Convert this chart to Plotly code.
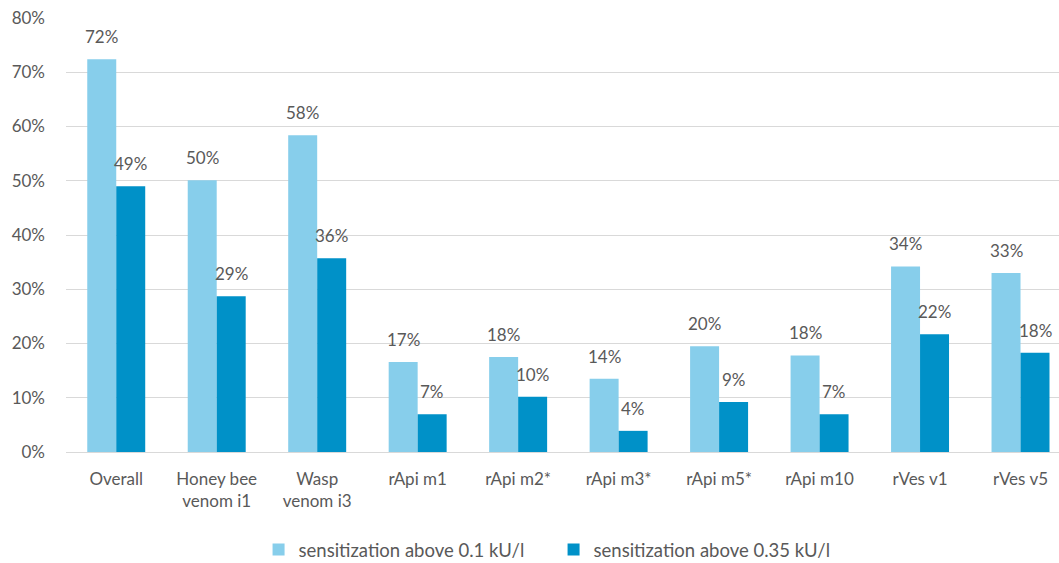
import plotly.graph_objects as go

categories = ["Overall", "Honey bee<br>venom i1", "Wasp<br>venom i3", "rApi m1", "rApi m2*",
              "rApi m3*", "rApi m5*", "rApi m10", "rVes v1", "rVes v5"]
above_01 = [72.4, 50.1, 58.4, 16.6, 17.5, 13.5, 19.5, 17.8, 34.2, 33.0]
above_035 = [49.0, 28.7, 35.7, 6.95, 10.2, 3.9, 9.2, 6.95, 21.7, 18.3]
series_names = ["sensitization above 0.1 kU/l", "sensitization above 0.35 kU/l"]
y_ticks = [0, 10, 20, 30, 40, 50, 60, 70, 80]

light = "#87CEEB"
dark = "#0091C8"
txt = "#595959"
font_family = "Lato, 'Open Sans', sans-serif"
fs = 17

fig = go.Figure()
fig.add_trace(go.Bar(x=categories, y=above_01, name=series_names[0],
                     marker=dict(color=light, line=dict(width=0))))
fig.add_trace(go.Bar(x=categories, y=above_035, name=series_names[1],
                     marker=dict(color=dark, line=dict(width=0))))

annotations = []
for vals, shift in ((above_01, -14.5), (above_035, 14.5)):
    for c, v in zip(categories, vals):
        annotations.append(dict(x=c, y=v, xref="x", yref="y", text=f"{v:.0f}%",
                                showarrow=False, xshift=shift, yshift=10,
                                yanchor="bottom", font=dict(size=fs, color=txt, family=font_family)))

fig.update_layout(
    width=1059, height=563,
    margin=dict(l=66, r=0, t=18, b=111, autoexpand=False),
    paper_bgcolor="white", plot_bgcolor="white",
    barmode="group", bargap=0.423, bargroupgap=0,
    font=dict(family=font_family, size=fs, color=txt),
    showlegend=True,
    legend=dict(orientation="h", x=0.491, xanchor="center", y=-0.226, yanchor="middle",
                font=dict(size=18.5, color=txt), itemwidth=30, traceorder="normal",
                entrywidth=250, entrywidthmode="pixels"),
    annotations=annotations,
)
fig.update_xaxes(type="category", range=[-0.5, 9.383], showgrid=False, showline=False,
                 ticks="", tickfont=dict(size=fs, color=txt), ticklabelstandoff=15,
                 automargin=False)
fig.update_yaxes(range=[0, 80], tickvals=y_ticks, ticktext=[f"{t}%" for t in y_ticks],
                 showgrid=True, gridcolor="#D9D9D9", gridwidth=1, zeroline=True,
                 zerolinecolor="#D9D9D9", zerolinewidth=1, showline=False, ticks="",
                 tickfont=dict(size=fs, color=txt), ticklabelstandoff=20, automargin=False)

fig.write_html("out.html", config={"displayModeBar": False},
               post_script="document.body.style.margin='0';")
